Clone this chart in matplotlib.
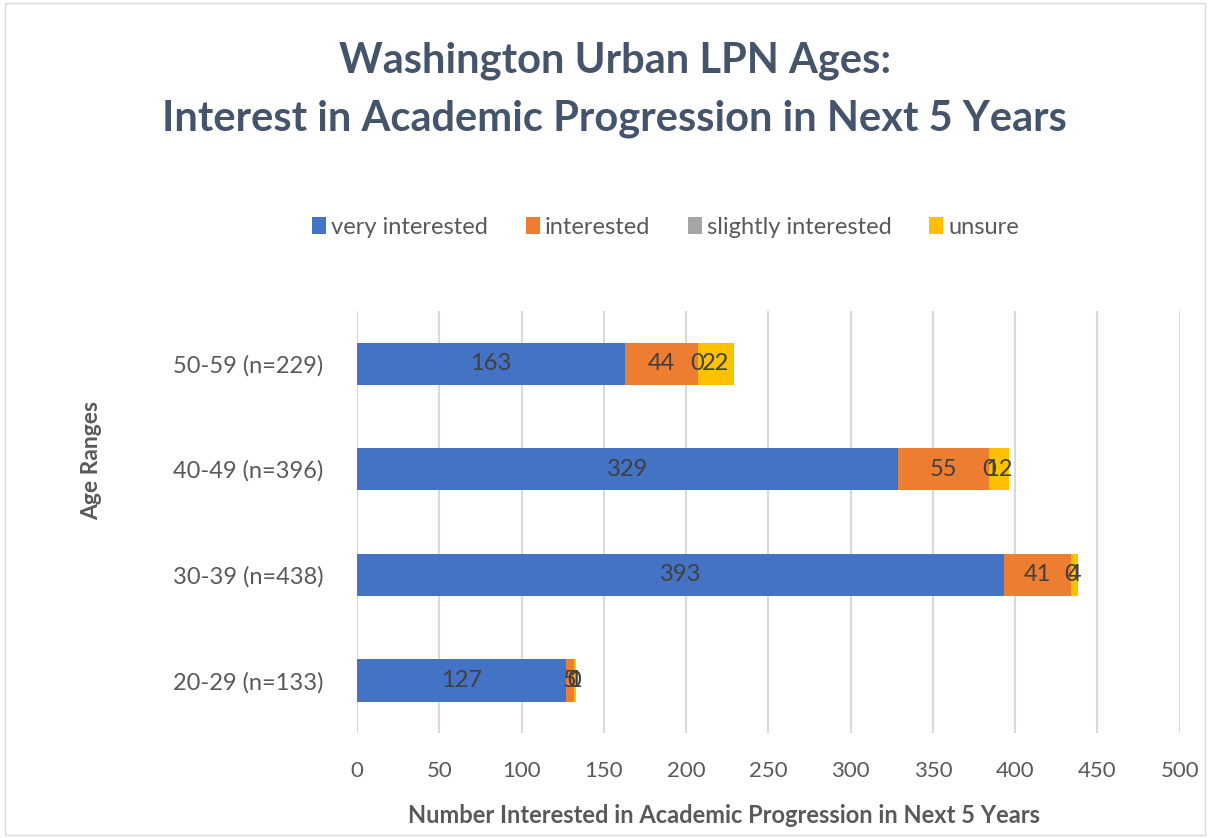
import matplotlib
matplotlib.use("Agg")
import matplotlib.pyplot as plt
from matplotlib.patches import Rectangle
import numpy as np

categories = ["20-29 (n=133)", "30-39 (n=438)", "40-49 (n=396)", "50-59 (n=229)"]
series_names = ["very interested", "interested", "slightly interested", "unsure"]
very_interested = [127, 393, 329, 163]
interested = [5, 41, 55, 44]
slightly_interested = [0, 0, 0, 0]
unsure = [1, 4, 12, 22]
colors = ["#4472C4", "#ED7D31", "#A5A5A5", "#FFC000"]
xticks = [0, 50, 100, 150, 200, 250, 300, 350, 400, 450, 500]

plt.rcParams['font.family'] = ['Lato', 'DejaVu Sans']

fig = plt.figure(figsize=(12.1, 8.38), dpi=100)
fig.patch.set_facecolor("white")
fig.add_artist(Rectangle((0.004, 0.004), 0.992, 0.992, transform=fig.transFigure,
                         fill=False, edgecolor="#D9D9D9", linewidth=1))

ax = fig.add_axes([0.295, 0.125, 0.68, 0.504])
y = np.arange(len(categories))
left = np.zeros(len(categories))
for name, vals, c in zip(series_names,
                         [very_interested, interested, slightly_interested, unsure],
                         colors):
    vals = np.array(vals, dtype=float)
    ax.barh(y, vals, left=left, height=0.4, color=c, label=name, zorder=3)
    for yi, l, v in zip(y, left, vals):
        ax.text(l + v / 2, yi, f"{int(v)}", ha="center", va="center",
                fontsize=17, color="#404040", zorder=4)
    left += vals

ax.set_xlim(0, 500)
ax.set_ylim(-0.5, 3.5)
ax.set_xticks(xticks)
ax.set_xticklabels([str(t) for t in xticks])
ax.set_yticks(y)
ax.set_yticklabels(categories)
ax.tick_params(axis="both", length=0, labelcolor="#595959")
ax.tick_params(axis="x", pad=20, labelsize=16)
ax.tick_params(axis="y", pad=24, labelsize=17)
ax.grid(axis="x", color="#D9D9D9", linewidth=1.5, zorder=0)
for s in ax.spines.values():
    s.set_visible(False)

fig.text(0.598, 0.027, "Number Interested in Academic Progression in Next 5 Years",
         ha="center", va="center", fontsize=17, fontweight="bold", color="#595959")
fig.text(0.076, 0.45, "Age Ranges", rotation=90, ha="center", va="center",
         fontsize=16.5, fontweight="bold", color="#595959")

fig.text(0.508, 0.893, "Washington Urban LPN Ages:\nInterest in Academic Progression in Next 5 Years",
         ha="center", va="center", fontsize=30, fontweight="bold", color="#44546A",
         linespacing=1.62)

handles, labels = ax.get_legend_handles_labels()
fig.legend(handles, labels, loc="center", bbox_to_anchor=(0.55, 0.729), ncol=4,
           frameon=False, fontsize=17, labelcolor="#595959", handlelength=0.6,
           handleheight=0.75, handletextpad=0.2, columnspacing=1.6)

fig.savefig("out.png", dpi=100)
